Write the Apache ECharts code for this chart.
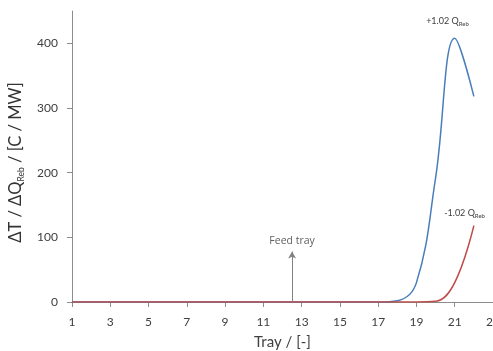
<!DOCTYPE html>
<html>
<head>
<meta charset="utf-8">
<script src="https://cdn.jsdelivr.net/npm/echarts@6/dist/echarts.min.js"></script>
<style>
  html, body { margin: 0; padding: 0; background: #fff; }
  #chart { width: 493px; height: 351px; }
</style>
</head>
<body>
<div id="chart"></div>
<script>
// Tray numbers along the column
const trays = [1, 2, 3, 4, 5, 6, 7, 8, 9, 10, 11, 12, 13, 14, 15, 16, 17, 18, 19, 20, 21, 22];
// Temperature sensitivity for +1.02 and -1.02 times the reboiler duty
const plusReb  = [0, 0, 0, 0, 0, 0, 0, 0, 0, 0, 0, 0, 0, 0, 0, 0, 0, 2, 30, 192, 408, 318];
const minusReb = [0, 0, 0, 0, 0, 0, 0, 0, 0, 0, 0, 0, 0, 0, 0, 0, 0, 0, 0, 1, 30, 118];
// Axis tick labels
const xTicks = [1, 3, 5, 7, 9, 11, 13, 15, 17, 19, 21, 23];
const yTicks = [0, 100, 200, 300, 400];
// Feed location and its annotation
const feedTray = 12.5;
const feedArrowTop = 78;
// Curve label anchors [tray, value]
const plusLabelAt = [20.62, 434];
const minusLabelAt = [20.45, 138];

const font = 'Lato, "Open Sans", sans-serif';
const subRich = {
  a: { fontSize: 9, color: '#404040', fontFamily: font },
  s: { fontSize: 6, color: '#404040', fontFamily: font, verticalAlign: 'bottom', lineHeight: 12 }
};

const chart = echarts.init(document.getElementById('chart'), null, { renderer: 'canvas' });
chart.setOption({
  backgroundColor: '#ffffff',
  animation: false,
  grid: { left: 72, right: 0, top: 11, bottom: 49, containLabel: false, outerBoundsMode: 'none' },
  xAxis: {
    type: 'value',
    min: 1,
    max: 23,
    interval: 2,
    name: 'Tray / [-]',
    nameLocation: 'middle',
    nameGap: 33,
    nameTextStyle: { fontSize: 15, color: '#404040', fontFamily: font },
    axisLine: { show: true, lineStyle: { color: '#8c8c8c', width: 1 } },
    axisTick: { show: true, length: 5, lineStyle: { color: '#8c8c8c' }, customValues: xTicks },
    axisLabel: { fontSize: 12, color: '#404040', margin: 14, fontFamily: font, customValues: xTicks, hideOverlap: false },
    splitLine: { show: false }
  },
  yAxis: {
    type: 'value',
    min: 0,
    max: 450,
    name: '{a|ΔT / ΔQ}{s|Reb}{b| / [C / MW]}',
    nameLocation: 'middle',
    nameRotate: 90,
    nameGap: 34,
    nameTextStyle: {
      rich: {
        a: { fontSize: 16.5, color: '#333333', fontFamily: font },
        b: { fontSize: 16.5, color: '#333333', fontFamily: font, padding: [0, 12, 0, 0] },
        s: { fontSize: 8.5, color: '#333333', fontFamily: font, verticalAlign: 'bottom', lineHeight: 21 }
      }
    },
    axisLine: { show: true, lineStyle: { color: '#8c8c8c', width: 1 } },
    axisTick: { show: true, length: 5, lineStyle: { color: '#8c8c8c' }, customValues: yTicks },
    axisLabel: { fontSize: 12, color: '#404040', margin: 14, fontFamily: font, customValues: yTicks },
    splitLine: { show: false }
  },
  series: [
    {
      name: '+1.02 QReb',
      type: 'line',
      data: trays.map((t, i) => [t, plusReb[i]]),
      smooth: 0.4,
      showSymbol: false,
      lineStyle: { color: '#4a7ebb', width: 1.5 },
      itemStyle: { color: '#4a7ebb' },
      markPoint: {
        symbol: 'circle',
        symbolSize: 0,
        itemStyle: { color: 'rgba(0,0,0,0)' },
        label: {
          show: true,
          position: 'inside',
          formatter: '{a|+1.02 Q}{s|Reb}',
          rich: subRich
        },
        data: [{ coord: plusLabelAt }]
      }
    },
    {
      name: '-1.02 QReb',
      type: 'line',
      data: trays.map((t, i) => [t, minusReb[i]]),
      smooth: 0.4,
      showSymbol: false,
      lineStyle: { color: '#be4b48', width: 1.5 },
      itemStyle: { color: '#be4b48' },
      markPoint: {
        symbol: 'circle',
        symbolSize: 0,
        itemStyle: { color: 'rgba(0,0,0,0)' },
        label: {
          show: true,
          position: 'right',
          distance: 0,
          formatter: '{a|-1.02 Q}{s|Reb}',
          rich: subRich
        },
        data: [{ coord: minusLabelAt }]
      },
      markLine: {
        silent: true,
        symbolSize: [6, 7],
        lineStyle: { color: '#808080', width: 1, type: 'solid' },
        label: {
          show: true,
          position: 'end',
          distance: 5,
          formatter: 'Feed tray',
          fontSize: 10.5,
          color: '#606060',
          fontFamily: '"Open Sans", sans-serif'
        },
        data: [[
          { coord: [feedTray, 0], symbol: 'none' },
          { coord: [feedTray, feedArrowTop], symbol: 'arrow' }
        ]]
      }
    }
  ]
});
</script>
</body>
</html>
